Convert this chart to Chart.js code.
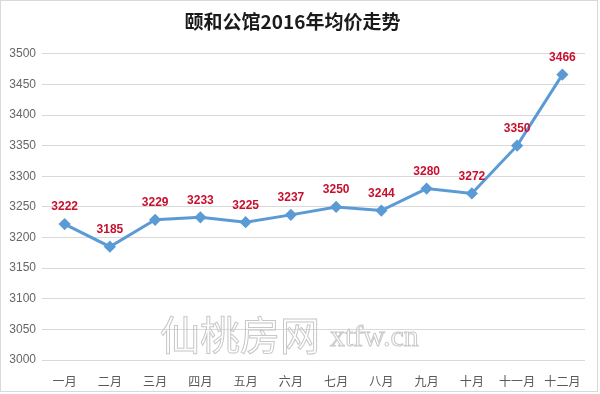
<!DOCTYPE html>
<html>
<head>
<meta charset="utf-8">
<script src="https://cdn.jsdelivr.net/npm/chart.js@4/dist/chart.umd.min.js"></script>
<style>
    html, body { margin: 0; padding: 0; background: #fff; }
    #wrap { width: 600px; height: 394px; }
</style>
</head>
<body>
<div id="wrap"><canvas id="priceChart" width="600" height="394"></canvas></div>
<script>
/* -------------------------------
   Data
--------------------------------*/
const months = ["一月", "二月", "三月", "四月", "五月", "六月", "七月", "八月", "九月", "十月", "十一月", "十二月"];
const avgPrice = [3222, 3185, 3229, 3233, 3225, 3237, 3250, 3244, 3280, 3272, 3350, 3466];
const yMin = 3000;
const yMax = 3500;
const yStep = 50;

/* -------------------------------
   Plugins: value labels, watermark, frame
--------------------------------*/
const valueLabels = {
    id: "valueLabels",
    afterDatasetsDraw(chart) {
        const ctx = chart.ctx;
        const meta = chart.getDatasetMeta(0);
        ctx.save();
        ctx.font = "bold 12px 'Liberation Sans', Arial, sans-serif";
        ctx.fillStyle = "#c8102e";
        ctx.textAlign = "center";
        ctx.textBaseline = "bottom";
        meta.data.forEach((pt, i) => {
            ctx.fillText(String(avgPrice[i]), pt.x, pt.y - 11);
        });
        ctx.restore();
    }
};

const watermark = {
    id: "watermark",
    afterDraw(chart) {
        const ctx = chart.ctx;
        ctx.save();
        ctx.strokeStyle = "#c8c8c8";
        ctx.lineWidth = 1;
        ctx.textBaseline = "alphabetic";
        ctx.font = "40px 'Noto Sans CJK SC', sans-serif";
        ctx.strokeText("仙桃房网", 160, 350);
        ctx.font = "30px 'Liberation Serif', serif";
        ctx.strokeText("xtfw.cn", 330, 346);
        ctx.restore();
    }
};

const frame = {
    id: "frame",
    afterDraw(chart) {
        const ctx = chart.ctx;
        ctx.save();
        ctx.strokeStyle = "#d9d9d9";
        ctx.lineWidth = 1;
        ctx.strokeRect(0.5, 0.5, chart.width - 3, chart.height - 3);
        ctx.restore();
    }
};

/* -------------------------------
   Chart
--------------------------------*/
function drawPriceChart() {
    const ctx = document.getElementById("priceChart").getContext("2d");

    new Chart(ctx, {
        type: "line",
        data: {
            labels: months,
            datasets: [{
                label: "均价",
                data: avgPrice,
                borderColor: "#5b9bd5",
                backgroundColor: "#5b9bd5",
                borderWidth: 3,
                pointStyle: "rectRot",
                pointRadius: 4,
                pointHoverRadius: 4,
                tension: 0,
                fill: false
            }]
        },
        options: {
            responsive: false,
            animation: false,
            layout: { padding: { left: 0, right: 15, top: 0, bottom: 0 } },
            plugins: {
                legend: { display: false },
                tooltip: { enabled: false },
                title: {
                    display: true,
                    text: "颐和公馆2016年均价走势",
                    color: "#1a1a1a",
                    font: { size: 19, weight: "bold", family: "'Noto Sans CJK SC', sans-serif" },
                    padding: { top: 10, bottom: 21 }
                }
            },
            scales: {
                x: {
                    offset: true,
                    grid: { display: false },
                    border: { display: false },
                    ticks: {
                        color: "#595959",
                        font: { size: 12, family: "'Noto Sans CJK SC', sans-serif" },
                        padding: 6,
                        maxRotation: 0,
                        autoSkip: false
                    },
                    afterFit(scale) { scale.height = 34; }
                },
                y: {
                    min: yMin,
                    max: yMax,
                    grid: { color: "#d9d9d9", drawTicks: false },
                    border: { display: false },
                    ticks: {
                        stepSize: yStep,
                        color: "#666666",
                        font: { size: 12, family: "'Liberation Sans', Arial, sans-serif" },
                        padding: 6,
                        callback: v => String(v)
                    },
                    afterFit(scale) { scale.width = 42; }
                }
            }
        },
        plugins: [valueLabels, watermark, frame]
    });
}

document.addEventListener("DOMContentLoaded", drawPriceChart);
</script>
</body>
</html>
